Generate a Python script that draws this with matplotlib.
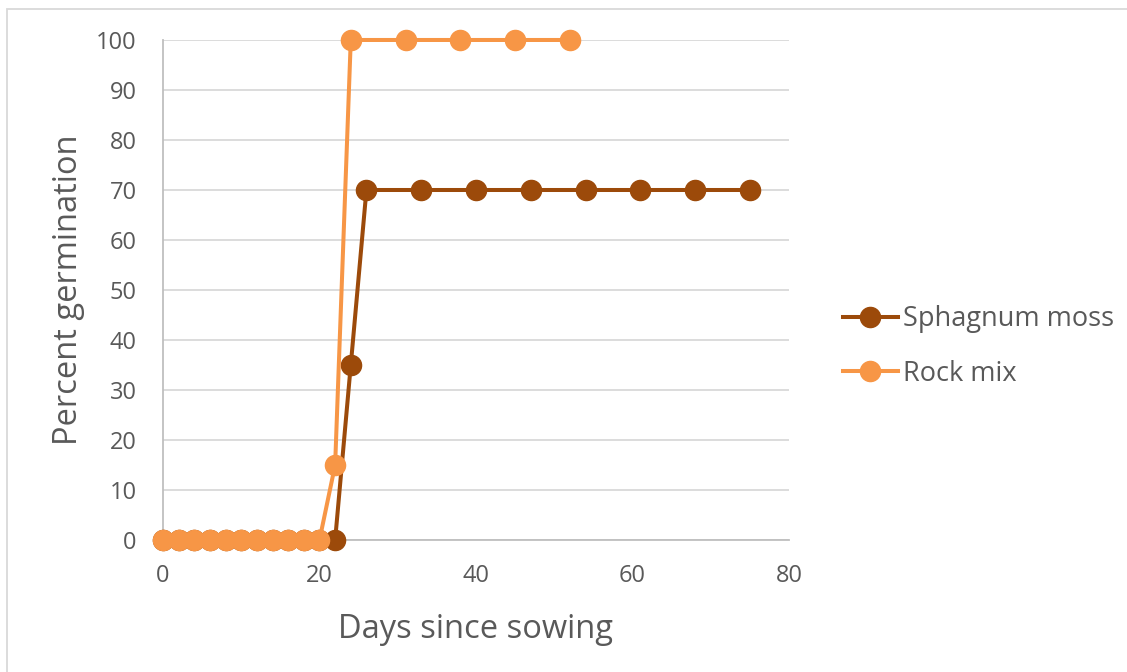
import matplotlib
matplotlib.use("Agg")
import matplotlib.pyplot as plt
from matplotlib.patches import Rectangle

# germination counts by days since sowing
sphagnum_days = [0, 2, 4, 6, 8, 10, 12, 14, 16, 18, 20, 22, 24, 26, 33, 40, 47, 54, 61, 68, 75]
sphagnum_pct  = [0, 0, 0, 0, 0, 0, 0, 0, 0, 0, 0, 0, 35, 70, 70, 70, 70, 70, 70, 70, 70]

rock_days = [0, 2, 4, 6, 8, 10, 12, 14, 16, 18, 20, 22, 24, 31, 38, 45, 52]
rock_pct  = [0, 0, 0, 0, 0, 0, 0, 0, 0, 0, 0, 15, 100, 100, 100, 100, 100]

x_ticks = [0, 20, 40, 60, 80]
y_ticks = list(range(0, 101, 10))

text_col = "#595959"
plt.rcParams["font.family"] = ["Open Sans", "DejaVu Sans"]

fig = plt.figure(figsize=(11.27, 6.72), dpi=100)
ax = fig.add_axes([0.1446, 0.1964, 0.5555, 0.7441])

ax.plot(sphagnum_days, sphagnum_pct, color="#9C4A0A", lw=2.9, marker="o",
        ms=14.5, label="Sphagnum moss", zorder=3, clip_on=False)
ax.plot(rock_days, rock_pct, color="#F79646", lw=2.9, marker="o",
        ms=14.5, label="Rock mix", zorder=4, clip_on=False)

ax.set_xlim(0, 80)
ax.set_ylim(0, 100)
ax.set_xticks(x_ticks)
ax.set_yticks(y_ticks)
ax.tick_params(length=0, labelsize=17, labelcolor=text_col)
ax.tick_params(axis="x", pad=17)
ax.tick_params(axis="y", pad=19)
ax.grid(axis="y", color="#d9d9d9", lw=1.3)
ax.set_axisbelow(True)
for side in ["top", "right"]:
    ax.spines[side].set_visible(False)
for side in ["left", "bottom"]:
    ax.spines[side].set_color("#bfbfbf")
    ax.spines[side].set_linewidth(1.3)

ax.set_xlabel("Days since sowing", fontsize=23.5, color=text_col, labelpad=18)
ax.set_ylabel("Percent germination", fontsize=23.5, color=text_col, labelpad=8)

ax.legend(loc="center left", bbox_to_anchor=(1.047, 0.387), frameon=False,
          fontsize=19.5, labelcolor=text_col, handlelength=2.03, handletextpad=0.2,
          labelspacing=0.98, markerscale=1.0)

# chart border
fig.patches.append(Rectangle((7 / 1127, -0.1), 1.2, 1 - 9 / 672 + 0.1,
                             transform=fig.transFigure, fill=False,
                             edgecolor="#d9d9d9", lw=1.3))

fig.savefig("out.png", dpi=100)
